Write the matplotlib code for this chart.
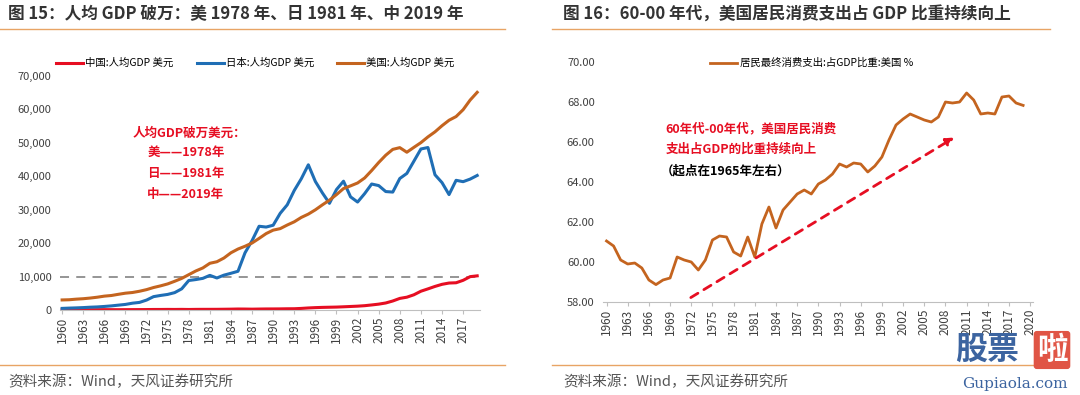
import matplotlib
matplotlib.use('Agg')
import matplotlib.pyplot as plt
from matplotlib.ticker import FuncFormatter

plt.rcParams['font.family'] = ['Noto Sans CJK SC', 'DejaVu Sans']

# 图15 数据: 人均GDP (美元), 1960-2019
years_gdp = list(range(1960, 2020))
china_gdp = [90, 76, 70, 74, 85, 98, 104, 97, 91, 100,
             113, 119, 132, 157, 160, 178, 165, 185, 156, 184,
             195, 197, 203, 225, 251, 294, 282, 251, 284, 311,
             318, 333, 366, 377, 473, 610, 709, 782, 829, 873,
             959, 1053, 1149, 1289, 1509, 1753, 2099, 2694, 3468, 3832,
             4550, 5618, 6317, 7051, 7679, 8067, 8148, 8879, 9977, 10217]
japan_gdp = [479, 564, 634, 719, 836, 919, 1059, 1229, 1451, 1669,
             2038, 2272, 2967, 3998, 4354, 4659, 5198, 6335, 8821, 9105,
             9463, 10361, 9578, 10425, 10985, 11585, 17112, 20745, 25051, 24813,
             25359, 28925, 31465, 35766, 39269, 43440, 38437, 35022, 31903, 36027,
             38532, 33846, 32289, 34808, 37688, 37218, 35434, 35275, 39339, 40855,
             44508, 48168, 48603, 40454, 38109, 34524, 38794, 38387, 39159, 40247]
us_gdp = [3007, 3067, 3244, 3375, 3574, 3828, 4146, 4336, 4696, 5032,
          5234, 5609, 6094, 6726, 7226, 7801, 8592, 9453, 10565, 11674,
          12575, 13976, 14434, 15544, 17121, 18237, 19071, 20039, 21417, 22857,
          23889, 24342, 25419, 26387, 27695, 28691, 29968, 31459, 32854, 34515,
          36330, 37134, 37998, 39490, 41725, 44123, 46302, 48050, 48570, 47195,
          48651, 50066, 51784, 53291, 55124, 56763, 57867, 59915, 62805, 65118]
gdp_labels = ['中国:人均GDP 美元', '日本:人均GDP 美元', '美国:人均GDP 美元']
threshold = 10000

# 图16 数据: 居民最终消费支出占GDP比重 (%), 1960-2019
years_pce = list(range(1960, 2020))
us_pce = [61.05, 60.8, 60.1, 59.9, 59.95, 59.7, 59.1, 58.87, 59.1, 59.2,
          60.25, 60.1, 60.0, 59.6, 60.1, 61.1, 61.3, 61.25, 60.5, 60.3,
          61.25, 60.25, 61.9, 62.75, 61.7, 62.6, 63.0, 63.4, 63.6, 63.4,
          63.9, 64.1, 64.4, 64.9, 64.75, 64.95, 64.9, 64.5, 64.8, 65.25,
          66.1, 66.85, 67.15, 67.4, 67.25, 67.1, 67.0, 67.25, 68.0, 67.95,
          68.0, 68.45, 68.1, 67.4, 67.45, 67.4, 68.25, 68.3, 67.95, 67.83]
pce_label = '居民最终消费支出:占GDP比重:美国 %'

RED = '#E60E22'
BLUE = '#1F6EB5'
BROWN = '#C4641F'
RULE = '#E8A465'
TICK = '#404040'

fig = plt.figure(figsize=(10.8, 3.95), dpi=100)

# 标题、分隔线、资料来源
fig.text(8 / 1080, 1 - 14 / 395, '图 15：人均 GDP 破万：美 1978 年、日 1981 年、中 2019 年',
         fontsize=12, fontweight='bold', color='#333333', va='center')
fig.text(563 / 1080, 1 - 14 / 395, '图 16：60-00 年代，美国居民消费支出占 GDP 比重持续向上',
         fontsize=12, fontweight='bold', color='#333333', va='center')
for x0, x1 in [(0, 505), (552, 1050)]:
    for yy in [29, 365]:
        fig.add_artist(plt.Line2D([x0 / 1080, x1 / 1080], [1 - yy / 395] * 2,
                                  color=RULE, lw=1))
for x0 in [8, 563]:
    fig.text(x0 / 1080, 1 - 382 / 395, '资料来源：Wind，天风证券研究所',
             fontsize=10.5, color='#555555', va='center')

# 水印
fig.text(955 / 1080, 1 - 350 / 395, '股票', fontsize=23, fontweight='bold',
         color='#3C64A0', va='center')
fig.text(1052 / 1080, 1 - 350 / 395, '啦', fontsize=22, fontweight='bold',
         color='white', va='center', ha='center',
         bbox=dict(boxstyle='round,pad=0.1', fc='#E05545', ec='none'))
fig.text(1015 / 1080, 1 - 384 / 395, 'Gupiaola.com', fontsize=11,
         family='DejaVu Serif', color='#3C64A0', va='center', ha='center')


def style_axis(ax):
    for s in ['top', 'right', 'left']:
        ax.spines[s].set_visible(False)
    ax.spines['bottom'].set_color('#BFBFBF')
    ax.tick_params(axis='y', length=0, labelsize=8, colors=TICK, pad=6)
    ax.tick_params(axis='x', length=3, color='#BFBFBF', labelsize=8.5,
                   labelcolor=TICK, rotation=90, pad=2)


# 左图
ax1 = fig.add_axes([60 / 1080, 1 - 310 / 395, 420 / 1080, 234 / 395])
style_axis(ax1)
ax1.plot(years_gdp, china_gdp, color=RED, lw=2.2, label=gdp_labels[0])
ax1.plot(years_gdp, japan_gdp, color=BLUE, lw=2.2, label=gdp_labels[1])
ax1.plot(years_gdp, us_gdp, color=BROWN, lw=2.2, label=gdp_labels[2])
ax1.axhline(threshold, color='#8C8C8C', lw=1.3, ls=(0, (5, 4)), zorder=0)
ax1.set_xlim(1959.7, 2019.4)
ax1.set_ylim(0, 70000)
ax1.set_yticks(range(0, 70001, 10000))
ax1.yaxis.set_major_formatter(FuncFormatter(lambda v, p: f'{int(v):,}'))
ax1.set_xticks(years_gdp[::3])
ax1.legend(loc='center', bbox_to_anchor=(0.465, 1.055), ncol=3, frameon=False,
           fontsize=7.5, handlelength=2.6, columnspacing=2.2, handletextpad=0.2)
ax1.text(0.172, 0.755, '人均GDP破万美元：', transform=ax1.transAxes,
         color=RED, fontsize=9, fontweight='bold', va='center')
for i, s in enumerate(['美——1978年', '日——1981年', '中——2019年']):
    ax1.text(0.208, 0.672 - i * 0.09, s, transform=ax1.transAxes,
             color=RED, fontsize=9, fontweight='bold', va='center')

# 右图
ax2 = fig.add_axes([603 / 1080, 1 - 302 / 395, 430 / 1080, 240 / 395])
style_axis(ax2)
ax2.plot(years_pce, us_pce, color=BROWN, lw=2.0, label=pce_label)
ax2.set_xlim(1959.5, 2020.4)
ax2.set_ylim(58, 70)
ax2.set_yticks(range(58, 71, 2))
ax2.yaxis.set_major_formatter(FuncFormatter(lambda v, p: f'{v:.2f}'))
ax2.set_xticks(list(range(1960, 2021, 3)))
ax2.legend(loc='center', bbox_to_anchor=(0.485, 0.995), frameon=False,
           fontsize=7.5, handlelength=2.6, handletextpad=0.2)
ax2.annotate('', xy=(2009.6, 66.3), xytext=(1971.6, 58.15),
             arrowprops=dict(arrowstyle='-|>', color=RED, lw=2,
                             ls=(0, (3, 2.5)), mutation_scale=12))
ax2.text(0.145, 0.72, '60年代-00年代，美国居民消费', transform=ax2.transAxes,
         color=RED, fontsize=9, fontweight='bold', va='center')
ax2.text(0.145, 0.635, '支出占GDP的比重持续向上', transform=ax2.transAxes,
         color=RED, fontsize=9, fontweight='bold', va='center')
ax2.text(0.135, 0.545, '（起点在1965年左右）', transform=ax2.transAxes,
         color='black', fontsize=9, fontweight='bold', va='center')

fig.savefig('out.png', dpi=100)
